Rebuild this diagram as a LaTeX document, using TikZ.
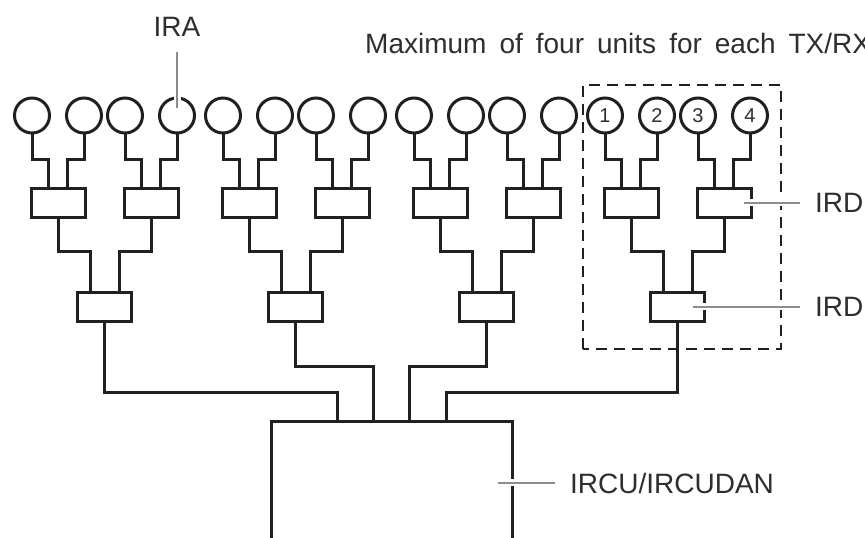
\documentclass[tikz,border=0pt]{standalone}
\usepackage{fontspec}
\setmainfont{Liberation Sans}
\usepackage{tikz}
\definecolor{ink}{HTML}{231F20}
\definecolor{txt}{HTML}{2E2E2E}
\definecolor{pointergray}{HTML}{8C8C8C}

\begin{document}
\begin{tikzpicture}[x=1pt,y=1pt,
    ant/.style={circle,draw=ink,line width=3pt,minimum size=35pt,inner sep=0pt,
      text=txt,font=\fontsize{20}{20}\selectfont},
    unit/.style={rectangle,draw=ink,line width=3pt,minimum width=54pt,
      minimum height=29pt,inner sep=0pt},
    wire/.style={draw=ink,line width=3pt},
    pointer/.style={draw=pointergray,line width=1.2pt,
      preaction={draw=white,line width=7pt}},
    lbl/.style={text=txt,inner sep=0pt,font=\fontsize{28}{30}\selectfont}]
  \useasboundingbox (0,0) rectangle (865,538);
  \node[minimum width=241pt,minimum height=140pt,inner sep=0pt,outer sep=0pt]
    (ircu) at (391.5,46) {}; % control unit
  \draw[wire] (ircu.south west) -- (ircu.north west) -- (ircu.north east)
    -- (ircu.south east);
  \foreach \g/\drop/\dx in {0/70/-54.5,1/44/-18,2/44/18,3/70/54.5} {
    \node[ant] (ant\g-1) at (32+191*\g,422.5) {\ifnum\g=3 1\fi}; % antennas
    \node[ant] (ant\g-2) at (84+191*\g,422.5) {\ifnum\g=3 2\fi};
    \node[ant] (ant\g-3) at (125+191*\g,422.5) {\ifnum\g=3 3\fi};
    \node[ant] (ant\g-4) at (177+191*\g,422.5) {\ifnum\g=3 4\fi};
    \node[unit] (unit\g-1) at (58+191*\g,335) {}; % first splitters
    \node[unit] (unit\g-2) at (151+191*\g,335) {};
    \node[unit] (hub\g) at (104.5+191*\g,231) {}; % second splitter
    \draw[wire] (ant\g-1.south) -- ++(0,-25) -| ([xshift=-9.5pt]unit\g-1.north);
    \draw[wire] (ant\g-2.south) -- ++(0,-25) -| ([xshift=9.5pt]unit\g-1.north);
    \draw[wire] (ant\g-3.south) -- ++(0,-25) -| ([xshift=-9.5pt]unit\g-2.north);
    \draw[wire] (ant\g-4.south) -- ++(0,-25) -| ([xshift=9.5pt]unit\g-2.north);
    \draw[wire] (unit\g-1.south) -- ++(0,-33) -| ([xshift=-14.5pt]hub\g.north);
    \draw[wire] (unit\g-2.south) -- ++(0,-33) -| ([xshift=14.5pt]hub\g.north);
    \draw[wire] (hub\g.south) -- ++(0,-\drop) -| ([xshift=\dx pt]ircu.north);
  }
  \draw[ink,line width=1.8pt,dash pattern=on 11pt off 7pt]
    (583,189) rectangle (781,453); % group of four
  \node[lbl,anchor=base] (ira) at (177,501) {IRA};
  \node[lbl,anchor=base west,font={\fontsize{28}{30}\selectfont\spaceskip=13pt plus 2pt\relax}]
    (note) at (365,484) {Maximum of four units for each TX/RX};
  \node[lbl,anchor=west] (ird1) at (815,335) {IRD};
  \node[lbl,anchor=west] (ird2) at (815,231) {IRD};
  \node[lbl,anchor=west] (ircu label) at (570,55) {IRCU/IRCUDAN};
  \draw[pointer] ([yshift=7pt]ant0-4.center) -- ([yshift=-15pt]ira.south);
  \draw[pointer] ([xshift=20pt]unit3-2.center) -- ([xshift=-15pt]ird1.west);
  \draw[pointer] ([xshift=15pt]hub3.center) -- ([xshift=-15pt]ird2.west);
  \draw[pointer] (ircu label.west) ++(-15pt,0) -- ++(-57pt,0);
\end{tikzpicture}
\end{document}
